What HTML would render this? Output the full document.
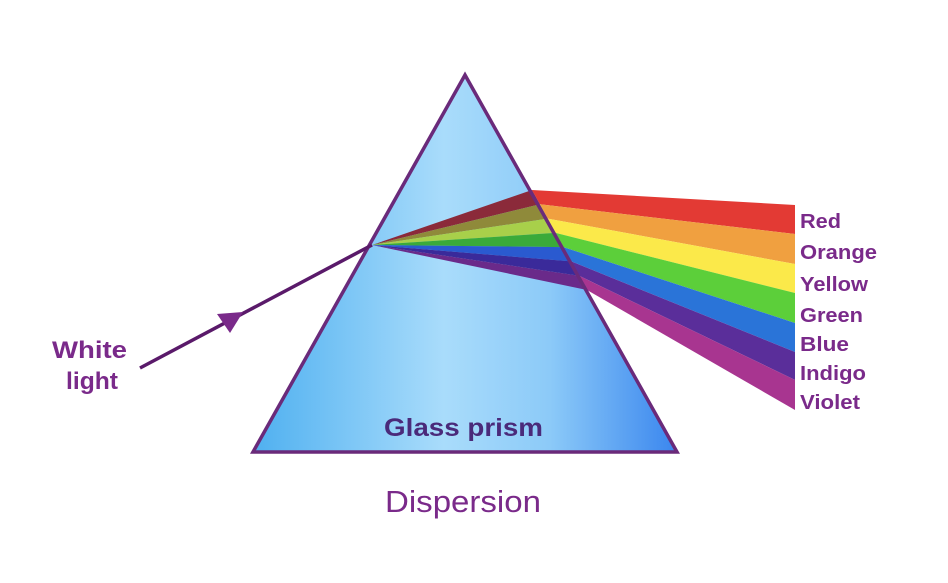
<!DOCTYPE html>
<html><head><meta charset="utf-8"><style>
html,body{margin:0;padding:0;background:#fff;width:948px;height:583px;overflow:hidden}
svg text{font-family:"Liberation Sans",Arial,sans-serif}
</style></head><body>
<svg width="948" height="583" viewBox="0 0 948 583" xmlns="http://www.w3.org/2000/svg">
<defs>
<linearGradient id="g" x1="253" y1="0" x2="677" y2="0" gradientUnits="userSpaceOnUse">
<stop offset="0" stop-color="#4fb0f0"/>
<stop offset="0.45" stop-color="#a9dcfb"/>
<stop offset="0.7" stop-color="#8ccaf8"/>
<stop offset="1" stop-color="#3a86ee"/>
</linearGradient>
</defs>
<polygon points="465,75 253,452 677,452" fill="url(#g)"/>
<polygon points="532,190 795,205 795,234 539.9,204.3" fill="#e33a34"/>
<polygon points="539.9,204.3 795,234 795,264 547.7,218.6" fill="#f0a040"/>
<polygon points="547.7,218.6 795,264 795,293 555.6,232.9" fill="#fbe94a"/>
<polygon points="555.6,232.9 795,293 795,323 563.4,247.1" fill="#5ccf3a"/>
<polygon points="563.4,247.1 795,323 795,352 571.3,261.4" fill="#2a74d8"/>
<polygon points="571.3,261.4 795,352 795,380 579.1,275.7" fill="#5a2e9a"/>
<polygon points="579.1,275.7 795,380 795,410 587,290" fill="#a83590"/>
<polygon points="372,245 532,190 539.9,204.3" fill="#8b2a3a"/>
<polygon points="372,245 539.9,204.3 547.7,218.6" fill="#8f8a3a"/>
<polygon points="372,245 547.7,218.6 555.6,232.9" fill="#a8d04a"/>
<polygon points="372,245 555.6,232.9 563.4,247.1" fill="#3aaa3a"/>
<polygon points="372,245 563.4,247.1 571.3,261.4" fill="#2a5ad0"/>
<polygon points="372,245 571.3,261.4 579.1,275.7" fill="#3a2a9a"/>
<polygon points="372,245 579.1,275.7 587,290" fill="#6a2a8a"/>
<polygon points="465,75 253,452 677,452" fill="none" stroke="#6a2a7a" stroke-width="3.5" stroke-linejoin="miter"/>
<line x1="140" y1="368" x2="372" y2="245" stroke="#5a1a6a" stroke-width="3.5"/>
<polygon points="243,312 217,314 230,333" fill="#7a2a8a"/>
<g fill="#7a2a8a" font-weight="bold" font-size="20">
<text x="800" y="228" textLength="41" lengthAdjust="spacingAndGlyphs">Red</text>
<text x="800" y="259" textLength="77" lengthAdjust="spacingAndGlyphs">Orange</text>
<text x="800" y="291" textLength="68" lengthAdjust="spacingAndGlyphs">Yellow</text>
<text x="800" y="322" textLength="63" lengthAdjust="spacingAndGlyphs">Green</text>
<text x="800" y="351" textLength="49" lengthAdjust="spacingAndGlyphs">Blue</text>
<text x="800" y="380" textLength="66" lengthAdjust="spacingAndGlyphs">Indigo</text>
<text x="800" y="409" textLength="60" lengthAdjust="spacingAndGlyphs">Violet</text>
<text x="52" y="358" font-size="24" textLength="75" lengthAdjust="spacingAndGlyphs">White</text>
<text x="66" y="389" font-size="24" textLength="52" lengthAdjust="spacingAndGlyphs">light</text>
</g>
<text x="384" y="436" fill="#4a2a7a" font-weight="bold" font-size="25" textLength="159" lengthAdjust="spacingAndGlyphs">Glass prism</text>
<text x="385" y="512" fill="#7a2a8a" font-size="31" textLength="156" lengthAdjust="spacingAndGlyphs">Dispersion</text>
</svg>
</body></html>
